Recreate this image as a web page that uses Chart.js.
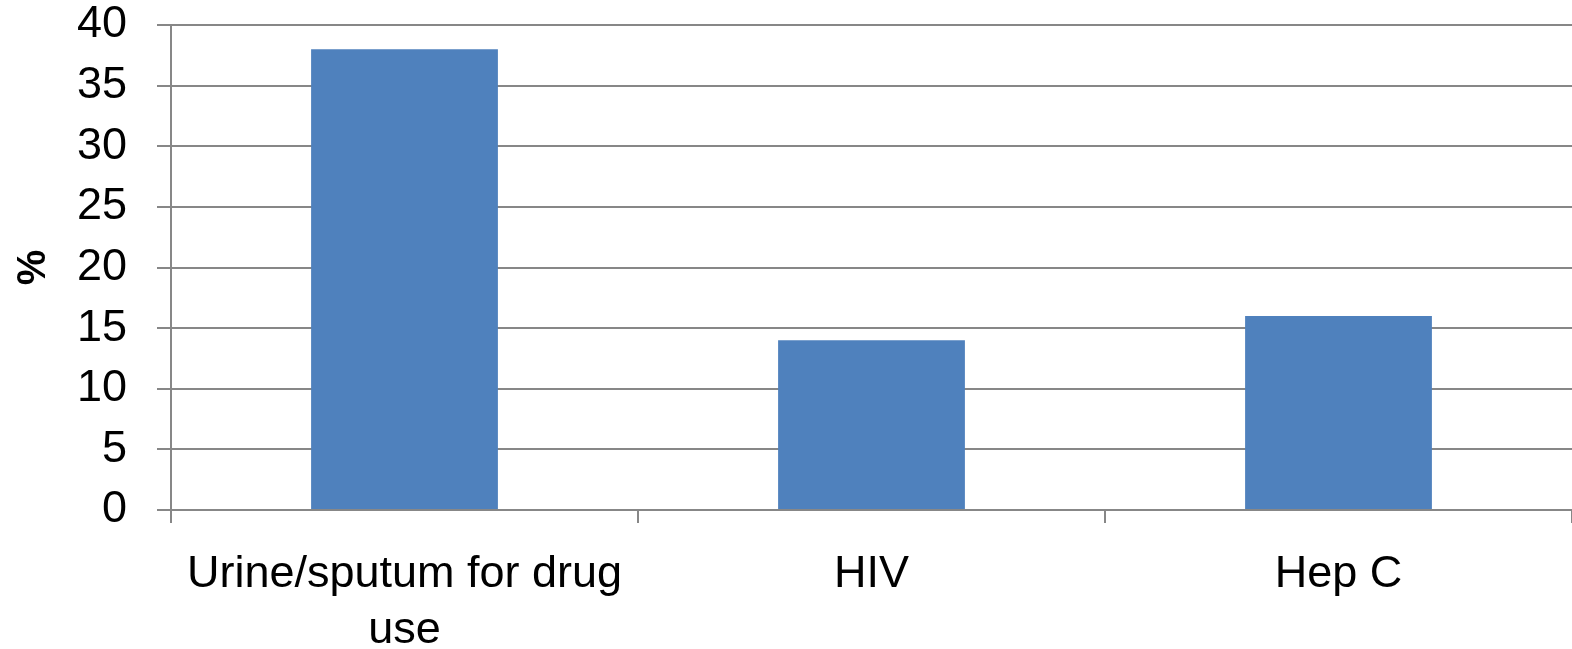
<!DOCTYPE html>
<html>
<head>
<meta charset="utf-8">
<script src="https://cdn.jsdelivr.net/npm/chart.js@4"></script>
<style>
  html, body { margin: 0; padding: 0; background: #fff; }
  #wrap { width: 1572px; height: 649px; }
</style>
</head>
<body>
<div id="wrap"><canvas id="myChart" width="1572" height="649"></canvas></div>
<script>
// chart data
const categories = [['Urine/sputum for drug', 'use'], 'HIV', 'Hep C'];
const percentValues = [38, 14, 16];
const yTicks = [0, 5, 10, 15, 20, 25, 30, 35, 40];

const gridGray = '#878787';
const fontFamily = '"Liberation Sans", Arial, sans-serif';

const ctx = document.getElementById('myChart').getContext('2d');
const myChart = new Chart(ctx, {
    type: 'bar',
    data: {
        labels: categories,
        datasets: [{
            label: '%',
            data: percentValues,
            backgroundColor: '#4f81bd',
            borderWidth: 0,
            barPercentage: 0.4,
            categoryPercentage: 1
        }]
    },
    options: {
        responsive: false,
        animation: false,
        layout: { padding: { top: 25, right: 0, left: 0, bottom: 0 } },
        plugins: {
            legend: { display: false },
            tooltip: { enabled: false }
        },
        scales: {
            x: {
                offset: true,
                grid: {
                    offset: true,
                    drawOnChartArea: false,
                    drawTicks: true,
                    tickLength: 13,
                    color: gridGray,
                    lineWidth: 2
                },
                border: { color: gridGray, width: 2 },
                ticks: {
                    color: '#000',
                    font: { family: fontFamily, size: 45, lineHeight: 1.24 },
                    maxRotation: 0,
                    autoSkip: false,
                    padding: 24
                },
                afterFit: function (scale) {
                    scale.height = 139;
                    scale.paddingLeft = 0;
                    scale.paddingRight = 0;
                }
            },
            y: {
                min: 0,
                max: 40,
                afterBuildTicks: function (scale) {
                    scale.ticks = yTicks.map(v => ({ value: v }));
                },
                grid: {
                    color: gridGray,
                    lineWidth: 2,
                    tickLength: 14
                },
                border: { color: gridGray, width: 2 },
                ticks: {
                    color: '#000',
                    font: { family: fontFamily, size: 45 },
                    padding: 30,
                    autoSkip: false
                },
                title: {
                    display: true,
                    text: '%',
                    color: '#000',
                    font: { family: fontFamily, size: 40, weight: 'bold' },
                    padding: { top: 10, bottom: 0 }
                },
                afterFit: function (scale) {
                    scale.width = 171;
                    scale.paddingTop = 0;
                    scale.paddingBottom = 0;
                }
            }
        }
    }
});
</script>
</body>
</html>
